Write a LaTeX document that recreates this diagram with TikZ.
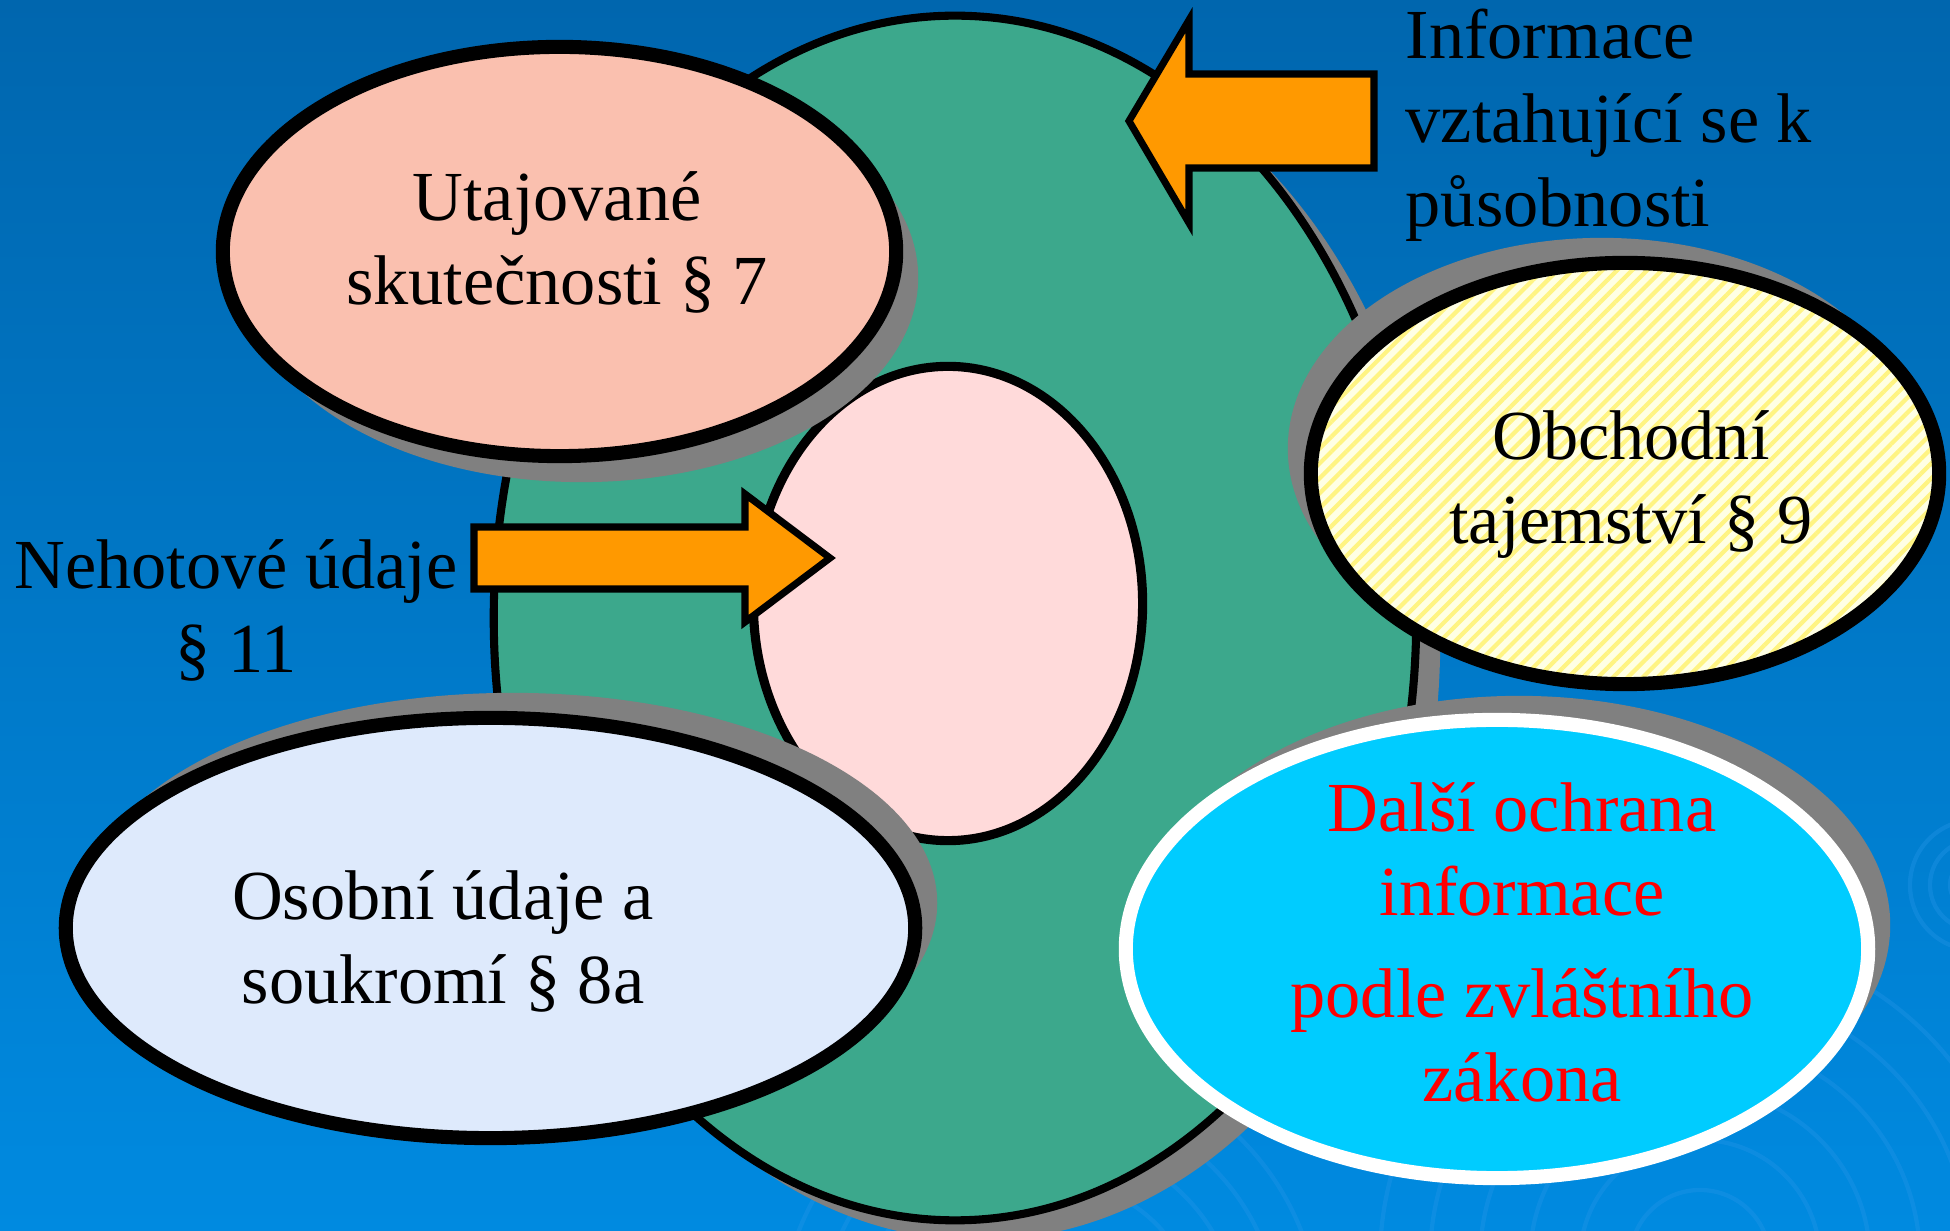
\documentclass[tikz,border=0pt]{standalone}
\usepackage{fontspec}
\setmainfont{Liberation Serif}
\usetikzlibrary{shapes.geometric,shadows,patterns.meta}

\definecolor{bgtop}{RGB}{0,102,174}
\definecolor{bgmid}{RGB}{0,108,184}
\definecolor{bgbottom}{RGB}{0,138,224}
\definecolor{swirl}{RGB}{40,150,232}
\definecolor{scopegreen}{RGB}{60,168,140}
\definecolor{scopeteal}{RGB}{42,178,165}
\definecolor{shadowgray}{RGB}{128,128,128}
\definecolor{secretred}{RGB}{250,192,175}
\definecolor{draftpink}{RGB}{255,218,218}
\definecolor{tradeyellow}{RGB}{255,255,228}
\definecolor{stripeyellow}{RGB}{255,244,130}
\definecolor{privacyblue}{RGB}{222,234,252}
\definecolor{othercyan}{RGB}{0,204,255}
\definecolor{arroworange}{RGB}{255,153,0}

\tikzset{
  bubble/.style={ellipse, draw=black, line width=4.pt, inner sep=0pt},
  castshadow/.style 2 args={drop shadow={shadow xshift=#1, shadow yshift=#2, fill=shadowgray, opacity=1}},
  labeltext/.style={font=\fontsize{20}{24}\selectfont, align=center, anchor=base, inner sep=0pt},
  blockarrow/.style={fill=arroworange, draw=black, line width=2.pt, line join=miter},
}

\begin{document}
\begin{tikzpicture}[line cap=round,line join=round,x=0.01cm,y=-0.01cm]
        \useasboundingbox (0,0) rectangle (1950,1231);
        \shade[top color=bgtop, middle color=bgmid, bottom color=bgbottom] (0,0) rectangle (1950,1231);
        % faint swirls in the background
        \begin{scope}
        \clip (0,0) rectangle (1950,1231);
        \foreach \r in {70,120,170,220,270,320}
          \draw[swirl, line width=1.2pt, opacity=0.35] (1700,1260) circle (\r);
        \foreach \r in {25,45,65}
          \draw[swirl, line width=1.2pt, opacity=0.35] (1975,885) circle (\r);
        \foreach \r in {150,190,230,270}
          \draw[swirl, line width=1.2pt, opacity=0.35] (1050,1330) circle (\r);
        \end{scope}
        % ellipses
        \node[bubble, line width=2.3pt, fill=scopeteal, minimum width=9.22cm, minimum height=12.04cm, castshadow={0.24cm}{-0.2cm},
              path picture={\fill[scopegreen, xshift=0.1cm, yshift=-0.1cm] (path picture bounding box.center) ellipse (4.61cm and 6.02cm);}] (pusobnost) at (955,618) {};
        \node[bubble, line width=2.6pt, fill=draftpink, minimum width=3.89cm, minimum height=4.74cm] (nehotove) at (948,603.5) {};
        \node[bubble, fill=secretred, minimum width=6.73cm, minimum height=4.09cm, castshadow={0.22cm}{-0.26cm}] (utajovane) at (559.5,251.5) {};
        \node[bubble, castshadow={-0.23cm}{0.25cm}, preaction={fill=tradeyellow}, pattern={Lines[angle=45, distance=3pt, line width=1.2pt]}, pattern color=stripeyellow, minimum width=6.28cm, minimum height=4.21cm] (obchodni) at (1625,473.5) {};
        \node[bubble, fill=privacyblue, minimum width=8.49cm, minimum height=4.20cm, castshadow={0.22cm}{0.25cm}] (osobni) at (490.5,928) {};
        \node[bubble, draw=white, fill=othercyan, minimum width=7.42cm, minimum height=4.58cm, castshadow={0.22cm}{0.24cm}] (dalsi) at (1497,949) {};
        % arrows
        \draw[blockarrow] (474,527) -- (745,527) -- (745,494) -- (830,558) -- (745,622) -- (745,589) -- (474,589) -- cycle;
        \draw[blockarrow] (1374,74) -- (1189,74) -- (1189,20) -- (1129,121) -- (1189,223) -- (1189,168) -- (1374,168) -- cycle;
        % texts
        \draw (557,305) node[labeltext] (utajText) {Utajované\\skutečnosti § 7};
        \draw (1631,544) node[labeltext] (obchodniText) {Obchodní\\tajemství § 9};
        \draw (443,1004) node[labeltext] (osobniText) {Osobní údaje a\\soukromí § 8a};
        \draw (1522,1102) node[labeltext, text=red] (dalsiText) {Další ochrana\\informace\\[5pt]podle zvláštního\\zákona};
        \draw (236,673) node[labeltext] (nehotoveText) {Nehotové údaje\\§ 11};
        \draw (1405,227) node[labeltext, align=left, anchor=base west] (informaceText) {Informace\\vztahující se k\\působnosti};
\end{tikzpicture}
\end{document}
